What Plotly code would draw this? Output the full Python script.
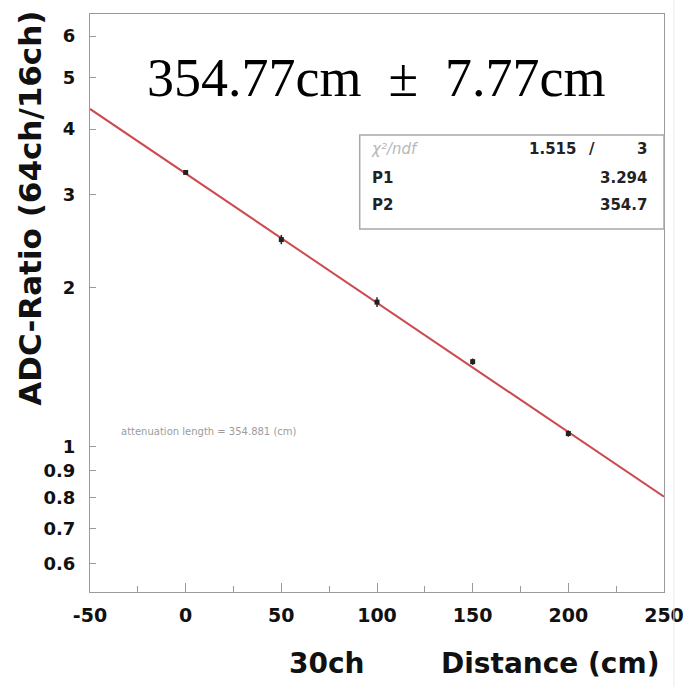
import numpy as np
import plotly.graph_objects as go

# Measured ADC ratio (64ch / 16ch) versus source distance
distance_cm = [0, 50, 100, 150, 200]
adc_ratio = [3.31, 2.47, 1.88, 1.45, 1.06]
adc_ratio_err = [0.03, 0.05, 0.04, 0.02, 0.015]

# Fit results: ratio = P1 * exp(-2 x / P2)
chi2, ndf = 1.515, 3
p1, p2 = 3.294, 354.7

y_ticks = [0.6, 0.7, 0.8, 0.9, 1, 2, 3, 4, 5, 6]
x_ticks = [-50, 0, 50, 100, 150, 200, 250]

W, H = 696, 687
L, R, T, B = 90, 671, 14, 592


def px(x):
    return (x - L) / (R - L)


def py(y):
    return (B - y) / (B - T)


x_fit = np.linspace(-50, 250, 61)
y_fit = p1 * np.exp(-2.0 * x_fit / p2)

fig = go.Figure()
fig.add_trace(go.Scatter(
    x=x_fit, y=y_fit, mode="lines",
    line=dict(color="#cc4a50", width=2), hoverinfo="skip", showlegend=False,
))
fig.add_trace(go.Scatter(
    x=distance_cm, y=adc_ratio, mode="markers",
    marker=dict(color="#222222", size=5, symbol="square"),
    error_y=dict(type="data", array=adc_ratio_err, color="#222222", thickness=1.5, width=0),
    showlegend=False,
))

tick_font = dict(family="DejaVu Sans", size=18, color="#111111", weight="bold")
axis_common = dict(
    showline=True, linecolor="#9a9a9a", linewidth=1, mirror=True,
    showgrid=False, zeroline=False, ticks="inside", tickcolor="#9a9a9a",
)

fig.update_xaxes(
    range=[-50, 250], tickvals=x_ticks, ticktext=[str(v) for v in x_ticks],
    ticklen=9, tickfont=dict(tick_font, size=19),
    minor=dict(dtick=25, tick0=-50, ticks="inside", ticklen=6, tickcolor="#9a9a9a"),
    ticklabelstandoff=6, **axis_common,
)
fig.update_yaxes(
    type="log", range=[-0.275, 0.820], tickvals=y_ticks,
    ticktext=[str(v) for v in y_ticks], ticklen=6, tickfont=tick_font,
    ticklabelstandoff=10, **axis_common,
)

shapes = [
    # fit statistics box
    dict(type="rect", xref="paper", yref="paper",
         x0=px(363), x1=px(671), y0=py(229), y1=py(135),
         line=dict(color="#a8a8a8", width=1.5), fillcolor="white", layer="above"),
    # faint outer canvas edge
    dict(type="line", xref="paper", yref="paper",
         x0=px(681), x1=px(681), y0=py(0), y1=py(687),
         line=dict(color="#ececec", width=1)),
]

stat_font = dict(family="DejaVu Sans", size=15, color="#222222", weight="bold")
annotations = [
    dict(text="354.77cm  ±  7.77cm", x=px(380), y=py(78), xanchor="center", yanchor="middle",
         font=dict(family="Liberation Serif", size=54, color="black")),
    dict(text="χ²/ndf", x=px(372), y=py(149), xanchor="left", yanchor="middle",
         font=dict(family="DejaVu Sans", size=15, color="#b8b8b8", style="italic")),
    dict(text=f"{chi2:.3f}", x=px(584), y=py(149), xanchor="right", yanchor="middle", font=stat_font),
    dict(text="/", x=px(598), y=py(149), xanchor="center", yanchor="middle", font=stat_font),
    dict(text=str(ndf), x=px(656), y=py(149), xanchor="right", yanchor="middle", font=stat_font),
    dict(text="P1", x=px(373), y=py(178), xanchor="left", yanchor="middle", font=stat_font),
    dict(text=f"{p1:.3f}", x=px(656), y=py(178), xanchor="right", yanchor="middle", font=stat_font),
    dict(text="P2", x=px(373), y=py(205), xanchor="left", yanchor="middle", font=stat_font),
    dict(text=f"{p2:.1f}", x=px(656), y=py(205), xanchor="right", yanchor="middle", font=stat_font),
    dict(text="attenuation length = 354.881 (cm)", x=px(210), y=py(431), xanchor="center",
         yanchor="middle", font=dict(family="DejaVu Sans", size=10, color="#9c9c9c")),
    # axis titles
    dict(text="ADC-Ratio (64ch/16ch)", x=px(29), y=py(208), xanchor="center", yanchor="middle",
         textangle=-90, font=dict(family="DejaVu Sans", size=31, color="#111111", weight="bold")),
    dict(text="30ch", x=px(330), y=py(663), xanchor="center", yanchor="middle",
         font=dict(family="DejaVu Sans", size=28, color="#111111", weight="bold")),
    dict(text="Distance (cm)", x=px(668), y=py(663), xanchor="right", yanchor="middle",
         font=dict(family="DejaVu Sans", size=28, color="#111111", weight="bold")),
]
for a in annotations:
    a.update(xref="paper", yref="paper", showarrow=False)

fig.update_layout(
    width=W, height=H,
    margin=dict(l=L, r=W - R, t=T, b=H - B),
    paper_bgcolor="white", plot_bgcolor="white",
    shapes=shapes, annotations=annotations, showlegend=False,
)

fig.write_html("out.html")
